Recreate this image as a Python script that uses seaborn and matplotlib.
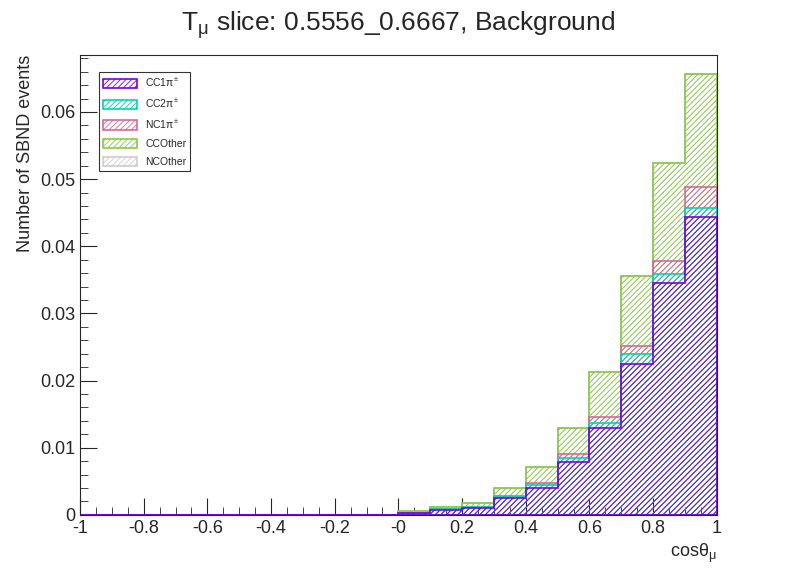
import numpy as np
import seaborn as sns
import matplotlib.pyplot as plt
from matplotlib.ticker import MultipleLocator

sns.set_style("ticks")
plt.rcParams['font.family'] = ['Liberation Sans', 'DejaVu Sans']
plt.rcParams['hatch.linewidth'] = 0.6

bin_edges = np.round(np.arange(-1.0, 1.0001, 0.1), 2)
centers = (bin_edges[:-1] + bin_edges[1:]) / 2

# cumulative stack tops, bins 0.0 .. 1.0
cum_cc1 = [0.0003, 0.0007, 0.0010, 0.0025, 0.0040, 0.0079, 0.0129, 0.0225, 0.0345, 0.0444]
cum_cc2 = [0.0003, 0.0008, 0.0011, 0.0027, 0.0044, 0.0085, 0.0137, 0.0239, 0.0358, 0.0457]
cum_nc1 = [0.0003, 0.0008, 0.0011, 0.0028, 0.0047, 0.0091, 0.0145, 0.0251, 0.0378, 0.0488]
cum_cco = [0.0005, 0.0011, 0.0018, 0.0040, 0.0071, 0.0129, 0.0213, 0.0355, 0.0524, 0.0656]
cum_nco = cum_cco

labels = ["CC1π$^\\mathregular{\\pm}$", "CC2π$^\\mathregular{\\pm}$", "NC1π$^\\mathregular{\\pm}$",
          "CCOther", "NCOther"]
colors = ["#7a00e6", "#00d4b0", "#d9669a", "#88cc44", "#cccccc"]
cums = [cum_cc1, cum_cc2, cum_nc1, cum_cco, cum_nco]

fig = plt.figure(figsize=(7.96, 5.72), dpi=100)
ax = fig.add_axes([0.1005, 0.1, 0.8, 0.804])

pad = [0.0] * 10
# draw top of stack first so lower components sit on top
for lab, col, cum in reversed(list(zip(labels, colors, cums))):
    w = pad + list(cum)
    ax.hist(centers, bins=bin_edges, weights=w, histtype='stepfilled',
            facecolor='none', edgecolor=col, hatch='//////', linewidth=1.2,
            label=lab)

ax.set_xlim(-1, 1)
ax.set_ylim(0, 0.0685)
xt = np.round(np.arange(-1, 1.001, 0.2), 1)
ax.set_xticks(xt)
ax.set_xticklabels(["%g" % v for v in xt])
yt = np.round(np.arange(0, 0.0601, 0.01), 2)
ax.set_yticks(yt)
ax.set_yticklabels(["0" if v == 0 else "%g" % v for v in yt])
ax.xaxis.set_minor_locator(MultipleLocator(0.05))
ax.yaxis.set_minor_locator(MultipleLocator(0.002))
ax.tick_params(which='both', direction='in', top=False, right=False, labelsize=13)
ax.tick_params(which='major', length=12)
ax.tick_params(which='minor', length=6)

ax.set_xlabel("cosθ$_\\mathregular{μ}$", fontsize=13, loc='right')
ax.set_ylabel("Number of SBND events", fontsize=13, loc='top')
fig.suptitle("T$_\\mathregular{μ}$ slice: 0.5556_0.6667, Background", fontsize=19, y=0.985)

h, l = ax.get_legend_handles_labels()
leg = ax.legend(h[::-1], l[::-1], loc='upper left', bbox_to_anchor=(0.022, 0.975),
                fontsize=7.5, frameon=True, fancybox=False, edgecolor='black',
                borderpad=0.4, labelspacing=0.75, handlelength=3.2, handleheight=1.0)
leg.get_frame().set_linewidth(0.8)

fig.savefig("out.png", dpi=100)
